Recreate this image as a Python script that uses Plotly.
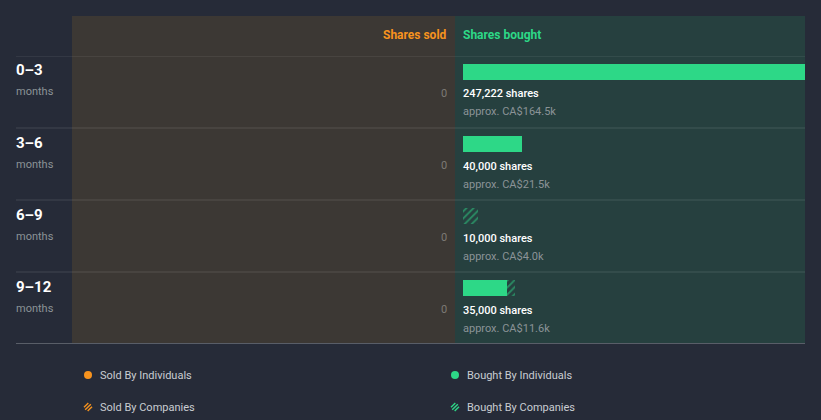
import math
import plotly.graph_objects as go

# ---------------- data ----------------
periods = ["0–3", "3–6", "6–9", "9–12"]
period_unit = ["months", "months", "months", "months"]
sold_individuals = [0, 0, 0, 0]
sold_companies = [0, 0, 0, 0]
bought_individuals = [247222, 40000, 0, 30000]
bought_companies = [0, 0, 10000, 5000]
bought_labels = ["247,222 shares", "40,000 shares", "10,000 shares", "35,000 shares"]
value_labels = ["approx. CA$164.5k", "approx. CA$21.5k", "approx. CA$4.0k", "approx. CA$11.6k"]
sold_labels = ["0", "0", "0", "0"]
x_max_shares = 232000

# ---------------- style ----------------
W, H = 821, 420
BG = "#262b38"
SOLD_BG = "#3c3834"
BOUGHT_BG = "#26403f"
GREEN = "#2dd887"
ORANGE = "#f7931e"
GRAY = "#8b9397"
FONT = "Roboto"

def px(x):
    return x / W

def py(y):
    return 1 - y / H

rows = list(range(len(periods)))
row_px = 72.0
bar_off = -28 / row_px
bar_w = 16 / row_px

fig = go.Figure()

# sold side (values are zero)
fig.add_trace(go.Bar(y=rows, x=sold_individuals, orientation="h", xaxis="x2", yaxis="y",
                     marker=dict(color=ORANGE, line=dict(width=0)), offset=bar_off, width=bar_w,
                     hoverinfo="skip", showlegend=False))
fig.add_trace(go.Bar(y=rows, x=sold_companies, orientation="h", xaxis="x2", yaxis="y",
                     marker=dict(color="rgba(0,0,0,0)", line=dict(width=0),
                                 pattern=dict(shape="/", fgcolor=ORANGE, bgcolor="rgba(0,0,0,0)", size=5, solidity=0.35)),
                     offset=bar_off, width=bar_w, hoverinfo="skip", showlegend=False))

# bought side
fig.add_trace(go.Bar(y=rows, x=bought_individuals, orientation="h", xaxis="x", yaxis="y",
                     marker=dict(color=GREEN, line=dict(width=0)), offset=bar_off, width=bar_w,
                     hoverinfo="skip", showlegend=False))
fig.add_trace(go.Bar(y=rows, x=bought_companies, orientation="h", xaxis="x", yaxis="y",
                     marker=dict(color="rgba(0,0,0,0)", line=dict(width=0),
                                 pattern=dict(shape="/", fgcolor=GREEN, bgcolor="rgba(0,0,0,0)", size=5, solidity=0.35)),
                     offset=bar_off, width=bar_w, hoverinfo="skip", showlegend=False))

shapes = []
# panel backgrounds
shapes.append(dict(type="rect", xref="paper", yref="paper", x0=px(72), x1=px(455), y0=py(343), y1=py(16),
                   fillcolor=SOLD_BG, line=dict(width=0), layer="below"))
shapes.append(dict(type="rect", xref="paper", yref="paper", x0=px(455), x1=px(805), y0=py(343), y1=py(16),
                   fillcolor=BOUGHT_BG, line=dict(width=0), layer="below"))
# row separators
for i in rows:
    shapes.append(dict(type="line", xref="paper", yref="y", x0=px(16), x1=px(805), y0=i - 0.5, y1=i - 0.5,
                       line=dict(color="rgba(255,255,255,0.13)", width=1), layer="below"))
shapes.append(dict(type="line", xref="paper", yref="y", x0=px(16), x1=px(805), y0=len(rows) - 0.5, y1=len(rows) - 0.5,
                   line=dict(color="#8d9299", width=1)))

annotations = []
def ann(**kw):
    kw.setdefault("showarrow", False)
    kw.setdefault("borderpad", 0)
    kw.setdefault("borderwidth", 0)
    kw.setdefault("yanchor", "middle")
    annotations.append(kw)

# header
ann(text="<b>Shares sold</b>", xref="paper", yref="paper", x=px(447), y=py(35), xanchor="right",
    font=dict(family=FONT, size=12, color=ORANGE))
ann(text="<b>Shares bought</b>", xref="paper", yref="paper", x=px(463), y=py(35), xanchor="left",
    font=dict(family=FONT, size=12, color=GREEN))

for i in rows:
    ann(text=f"<b>{periods[i]}</b>", xref="paper", yref="y", x=px(16), y=i, yshift=21.5, xanchor="left",
        font=dict(family=FONT, size=15, color="#ffffff"))
    ann(text=period_unit[i], xref="paper", yref="y", x=px(16), y=i, yshift=0, xanchor="left",
        font=dict(family=FONT, size=11, color=GRAY))
    ann(text=sold_labels[i], xref="paper", yref="y", x=px(447), y=i, yshift=-1.5, xanchor="right",
        font=dict(family=FONT, size=11, color="#7d7a76"))
    ann(text=bought_labels[i], xref="paper", yref="y", x=px(463), y=i, yshift=-2, xanchor="left",
        font=dict(family=FONT, size=11, color="#ffffff", weight=500))
    ann(text=value_labels[i], xref="paper", yref="y", x=px(463), y=i, yshift=-20, xanchor="left",
        font=dict(family=FONT, size=11, color=GRAY))

# legend (manual 2x2)
legend_items = [
    ("Sold By Individuals", ORANGE, False, 88, 375),
    ("Bought By Individuals", GREEN, False, 455, 375),
    ("Sold By Companies", ORANGE, True, 88, 407),
    ("Bought By Companies", GREEN, True, 455, 407),
]
r = 4
for label, col, hatched, cx, cy in legend_items:
    if not hatched:
        shapes.append(dict(type="circle", xref="paper", yref="paper",
                           x0=px(cx - r), x1=px(cx + r), y0=py(cy + r), y1=py(cy - r),
                           fillcolor=col, line=dict(width=0)))
    else:
        t = (1 / math.sqrt(2), -1 / math.sqrt(2))
        n = (1 / math.sqrt(2), 1 / math.sqrt(2))
        for d in (-2.6, 0, 2.6):
            h = math.sqrt(max(r * r - d * d, 0))
            ax = cx + d * n[0] - h * t[0]
            ay = cy + d * n[1] - h * t[1]
            bx = cx + d * n[0] + h * t[0]
            by = cy + d * n[1] + h * t[1]
            shapes.append(dict(type="line", xref="paper", yref="paper",
                               x0=px(ax), y0=py(ay), x1=px(bx), y1=py(by),
                               line=dict(color=col, width=1.4)))
    ann(text=label, xref="paper", yref="paper", x=px(cx + 12), y=py(cy), xanchor="left",
        font=dict(family=FONT, size=11, color="#c9cdd2"))

fig.update_layout(
    width=W, height=H,
    margin=dict(l=0, r=0, t=0, b=0),
    paper_bgcolor=BG, plot_bgcolor="rgba(0,0,0,0)",
    barmode="stack",
    showlegend=False,
    xaxis=dict(domain=[px(463), px(805)], range=[0, x_max_shares], visible=False, fixedrange=True),
    xaxis2=dict(domain=[px(72), px(447)], range=[x_max_shares, 0], visible=False, fixedrange=True),
    yaxis=dict(domain=[py(344), py(56)], range=[len(rows) - 0.5, -0.5], visible=False, fixedrange=True),
    shapes=shapes,
    annotations=annotations,
    font=dict(family=FONT),
)

fig.write_html("out.html", config={"displayModeBar": False})
